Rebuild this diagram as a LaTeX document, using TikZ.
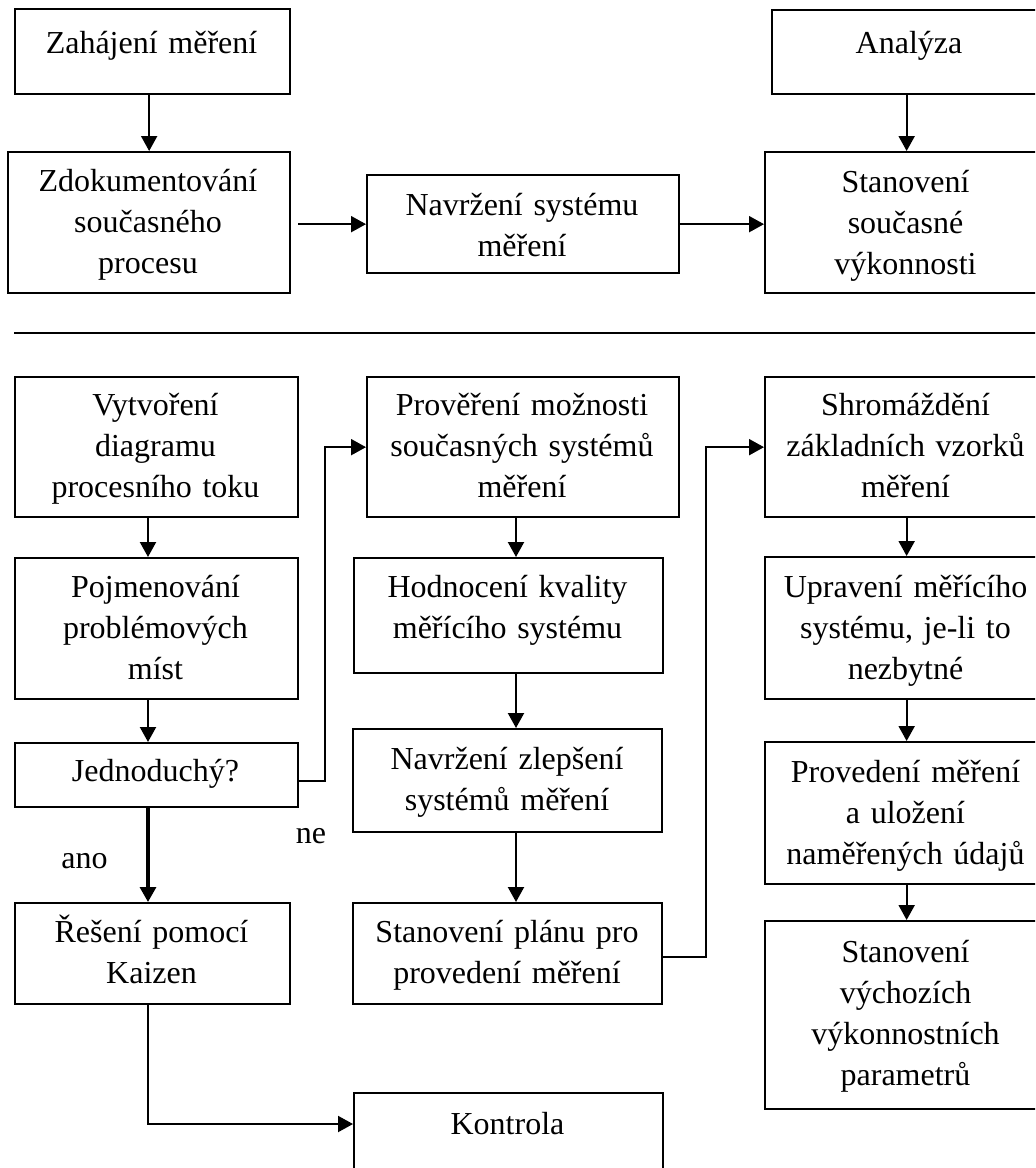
\documentclass[tikz,border=0pt]{standalone}
\usepackage{fontspec}
\setmainfont{Liberation Serif}
\usetikzlibrary{arrows.meta}

% box: name, left, top, right, bottom, text x, first baseline y, text
\newcommand\flowbox[8]{%
  \node[boxshape, anchor=north west,
        minimum width={(#4-#2)*0.5pt}, minimum height={(#5-#3)*0.5pt}] (#1) at (#2,#3) {};
  \node[boxtext, anchor=base] (#1-t) at (#6,#7) {#8};
}

\begin{document}
\begin{tikzpicture}[x=0.5pt, y=-0.5pt,
  boxshape/.style={draw, rectangle, line width=1.15pt, inner sep=0pt, fill=white},
  boxtext/.style={inner sep=0pt, text width=150pt, align=center,
                  font=\fontsize{16}{20.5}\selectfont},
  lbl/.style={inner sep=0pt, font=\fontsize{16}{20.5}\selectfont},
  arr/.style={line width=1.05pt, -{Triangle[length=7.5pt, width=8pt]}},
  sepline/.style={line width=1.15pt}]

\useasboundingbox (0,0) rectangle (1035,1168);
\clip (0,0) rectangle (1035,1168);
\fill[white] (0,0) rectangle (1035,1168);

% upper part
\flowbox{zah}{14}{8}{289}{93}{151.5}{53}{Zahájení měření}
\flowbox{anal}{771}{9}{1047}{93}{909}{53}{Analýza}
\flowbox{zdok}{7}{151}{289}{292}{148}{191}{Zdokumentování\\současného\\procesu}
\flowbox{navrh}{366}{174}{678}{272}{522}{215}{Navržení systému\\měření}
\flowbox{stan}{764}{151}{1047}{292}{905.5}{192}{Stanovení\\současné\\výkonnosti}

% separating rule
\draw[sepline] (14,333) -- (1040,333);

% lower part, left column
\flowbox{vytv}{14}{376}{297}{516}{155.5}{415}{Vytvoření\\diagramu\\procesního toku}
\flowbox{pojm}{14}{557}{297}{698}{155.5}{597}{Pojmenování\\problémových\\míst}
\flowbox{jedn}{14}{742}{297}{806}{155.5}{781}{Jednoduchý?}
\flowbox{resen}{14}{902}{289}{1003}{151.5}{942}{Řešení pomocí\\Kaizen}

% middle column
\flowbox{prov}{366}{376}{678}{516}{522}{415}{Prověření možnosti\\současných systémů\\měření}
\flowbox{hodn}{353}{557}{662}{672}{507.5}{597}{Hodnocení kvality\\měřícího systému}
\flowbox{navz}{352}{728}{661}{831}{507}{769}{Navržení zlepšení\\systémů měření}
\flowbox{plan}{352}{902}{661}{1003}{507}{942}{Stanovení plánu pro\\provedení měření}
\flowbox{kontr}{353}{1092}{662}{1185}{507.5}{1134}{Kontrola}

% right column
\flowbox{shrom}{764}{376}{1047}{516}{905.5}{415}{Shromáždění\\základních vzorků\\měření}
\flowbox{uprav}{764}{556}{1047}{698}{905.5}{597}{Upravení měřícího\\systému, je-li to\\nezbytné}
\flowbox{proved}{764}{741}{1047}{883}{905.5}{782}{Provedení měření\\a uložení\\naměřených údajů}
\flowbox{stanv}{764}{920}{1047}{1108}{905.5}{962}{Stanovení\\výchozích\\výkonnostních\\parametrů}

% branch labels
\node[lbl, anchor=base] (ne) at (311,843) {ne};
\node[lbl, anchor=base] (ano) at (84.5,868) {ano};

% column axes for vertical arrows
\coordinate (lx) at (148,0);
\coordinate (mx) at (516,0);

% connectors, upper part
\draw[arr] (zah.south -| zdok.north) -- (zdok.north);
\draw[arr] ([xshift=3.5pt]zdok.east |- navrh.west) -- (navrh.west);
\draw[arr] (navrh.east) -- (navrh.east -| stan.west);
\draw[arr] (anal.south -| stan.north) -- (stan.north);

% connectors, left column
\draw[arr] (vytv.south -| lx) -- (pojm.north -| lx);
\draw[arr] (pojm.south -| lx) -- (jedn.north -| lx);
\draw[arr, line width=1.6pt] (jedn.south -| lx) -- (resen.north -| lx);
\draw[arr] ([yshift=-3pt]jedn.east) -- ++(13pt,0) |- (prov.west);
\draw[arr] (resen.south -| lx) |- ([yshift=-16pt]kontr.north west);

% connectors, middle column
\draw[arr] (prov.south -| mx) -- (hodn.north -| mx);
\draw[arr] (hodn.south -| mx) -- (navz.north -| mx);
\draw[arr] (navz.south -| mx) -- (plan.north -| mx);
\draw[arr] ([yshift=-1.75pt]plan.east) -- ++(21.5pt,0) |- (shrom.west);

% connectors, right column
\draw[arr] (shrom.south) -- (uprav.north);
\draw[arr] (uprav.south) -- (proved.north);
\draw[arr] (proved.south) -- (stanv.north);

\end{tikzpicture}
\end{document}
